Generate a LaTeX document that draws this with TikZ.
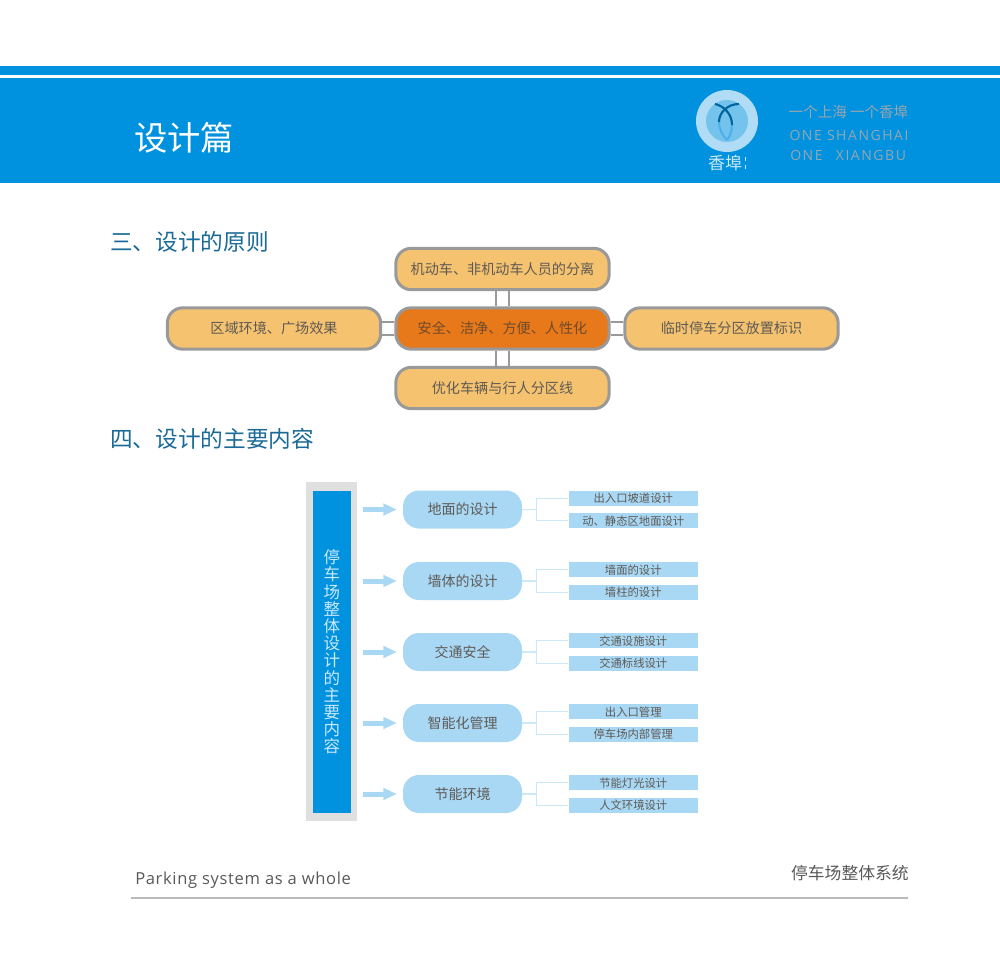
\documentclass[tikz,border=0pt]{standalone}
\usepackage{fontspec}
\setmainfont{Noto Sans CJK SC}
\newfontfamily\latinfont{Open Sans}
\usetikzlibrary{calc,arrows.meta}
\definecolor{headblue}{HTML}{0091DF}
\definecolor{titleblue}{HTML}{1A6A97}
\definecolor{boxorange}{HTML}{F5C26F}
\definecolor{midorange}{HTML}{E8791A}
\definecolor{boxgray}{HTML}{999999}
\definecolor{pillblue}{HTML}{A9D8F5}
\definecolor{branchblue}{HTML}{CBE9FB}
\definecolor{panelgray}{HTML}{DFDFDF}
\definecolor{logotext}{HTML}{98A6AE}
\definecolor{boxtext}{HTML}{5E5A55}
\definecolor{midtext}{HTML}{6E4A2A}
\tikzset{
    planbox/.style={draw=boxgray,line width=2.25pt,rounded corners=11.5pt,fill=boxorange,text=boxtext,
        minimum width=160pt,minimum height=31pt,inner sep=0pt,font=\fontsize{10.6}{12}\selectfont},
    pillbox/.style={fill=pillblue,rounded corners=12pt,minimum width=89.25pt,minimum height=28.5pt,
        inner sep=0pt,text=boxtext,font=\fontsize{10.5}{12}\selectfont},
    subbox/.style={fill=pillblue,minimum width=97pt,minimum height=11.6pt,inner sep=0pt,
        text=boxtext,font=\fontsize{8.5}{10}\selectfont},
    branch/.style={draw=branchblue,line width=1.1pt},
    link/.style={draw=boxgray,line width=0.9pt},
    flowarrow/.style={draw=pillblue,line width=3.75pt,shorten >=4.5pt,shorten <=4.5pt,-{Triangle[length=10pt,width=8.5pt]}},
    logotype/.style={text=logotext,font=\latinfont\fontsize{10.5}{12}\selectfont\addfontfeature{LetterSpace=11}},
}
\begin{document}
\begin{tikzpicture}[x=0.75pt,y=-0.75pt]
        \useasboundingbox (0,0) rectangle (1000,959);
        % header
        \fill[headblue] (0,66) rectangle (1000,75.5);
        \fill[headblue] (0,78) rectangle (1000,183);
        \node[text=white,font=\fontsize{25}{28}\selectfont] (title) at (184,138) {设计篇};

        % logo
        \fill[pillblue!90!white] (727,121) circle (31);
        \fill[headblue!55!white] (727,121) circle (21);
        \draw[headblue!25!pillblue!60!headblue,line width=1.6pt] (732,125) .. controls (732,131) and (730,136) .. (727,140);
        \draw[headblue!25!pillblue!60!headblue,line width=1.6pt] (719,122) .. controls (719,130) and (723,136) .. (727,140);
        \draw[headblue!70!black,line width=1.6pt] (715,104) .. controls (724,106) and (732,114) .. (732,125);
        \draw[headblue!70!black,line width=1.6pt] (739,104) .. controls (728,104) and (719,112) .. (719,122);
        \node[text=branchblue,font=\fontsize{12.75}{15}\selectfont] (logoname) at (725,163) {香埠};
        \draw[branchblue,dashed,line width=0.6pt] (745.7,157) -- (745.7,170);

        \node[text=logotext,font=\fontsize{10.9}{12}\selectfont] (slogan) at (848.5,112) {一个上海 一个香埠};
        \node[logotype] (oneA) at (849,135) {ONE SHANGHAI};
        \node[logotype,anchor=west,inner sep=0pt] (oneB) at (790,155) {ONE\hspace{10pt}XIANGBU};

        % headings
        \node[text=titleblue,anchor=west,inner sep=0pt,font=\fontsize{17}{20}\selectfont] (headA) at (110,242) {三、设计的原则};
        \node[text=titleblue,anchor=west,inner sep=0pt,font=\fontsize{17}{20}\selectfont] (headB) at (110,439) {四、设计的主要内容};

        % principles
        \node[planbox,fill=midorange,text=midtext] (mid) at (502.5,328.5) {安全、洁净、方便、人性化};
        \node[planbox] (top) at (502.5,269) {机动车、非机动车人员的分离};
        \node[planbox] (bot) at (502.5,388) {优化车辆与行人分区线};
        \node[planbox] (lft) at (274,328.5) {区域环境、广场效果};
        \node[planbox] (rgt) at (731.5,328.5) {临时停车分区放置标识};

        \foreach \u/\v in {top/mid,mid/bot}
        {
            \draw[link] ([xshift=-4.9pt]\u.south) -- ([xshift=-4.9pt]\v.north);
            \draw[link] ([xshift=4.9pt]\u.south) -- ([xshift=4.9pt]\v.north);
        };
        \foreach \u/\v in {lft/mid,mid/rgt}
        {
            \draw[link] ([yshift=4.9pt]\u.east) -- ([yshift=4.9pt]\v.west);
            \draw[link] ([yshift=-4.9pt]\u.east) -- ([yshift=-4.9pt]\v.west);
        };

        % main content
        \node[fill=panelgray,minimum width=38.25pt,minimum height=254.25pt,inner sep=0pt] (panel) at (331.5,651.5) {};
        \node[fill=headblue,minimum width=28.5pt,minimum height=241.5pt,inner sep=0pt,text=branchblue,
            align=center,font=\fontsize{12.4}{12.9}\selectfont] (core) at (332,652)
            {停\\车\\场\\整\\体\\设\\计\\的\\主\\要\\内\\容};

        \foreach \i/\y/\t/\a/\b in
        {1/509.5/地面的设计/出入口坡道设计/动、静态区地面设计,
         2/581/墙体的设计/墙面的设计/墙柱的设计,
         3/652/交通安全/交通设施设计/交通标线设计,
         4/723/智能化管理/出入口管理/停车场内部管理,
         5/794/节能环境/节能灯光设计/人文环境设计
        }
        {
            \node[pillbox] (pill\i) at (462.5,\y) {\t};
            \node[subbox] (suba\i) at (633.25,\y-11.25) {\a};
            \node[subbox] (subb\i) at (633.25,\y+11.25) {\b};
            \draw[flowarrow] (panel.east |- pill\i.west) -- (pill\i.west);
            \draw[branch] (pill\i.east) -- ++(14,0) |- (suba\i.west);
            \draw[branch] (pill\i.east) -- ++(14,0) |- (subb\i.west);
        };

        % footer
        \node[anchor=west,inner sep=0pt,text=black!65,font=\latinfont\fontsize{12.4}{16}\selectfont\addfontfeature{LetterSpace=4}] (foot) at (135,880) {Parking system as a whole};
        \node[anchor=east,inner sep=0pt,text=black!65,font=\fontsize{12.6}{15}\selectfont] (footcn) at (909,873) {停车场整体系统};
        \draw[black!27,line width=1.2pt] (131,898) -- (908,898);
\end{tikzpicture}
\end{document}
